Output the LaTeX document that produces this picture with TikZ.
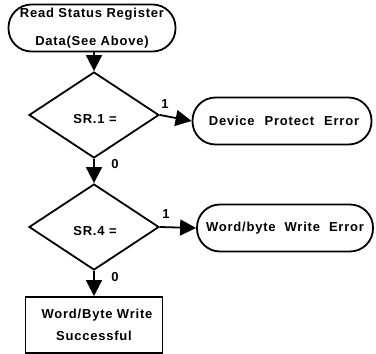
\documentclass[tikz,border=0pt]{standalone}
\usepackage{fontspec}
\setmainfont{Liberation Sans}[LetterSpace=6]
\usetikzlibrary{shapes.geometric,arrows.meta}
\begin{document}
\begin{tikzpicture}[x=1pt,y=-1pt,
  line width=1.8pt,
  every node/.style={font=\fontsize{13}{15.6}\selectfont\bfseries},
  term/.style={draw,rectangle,rounded corners=23pt,inner sep=0pt,minimum height=47pt,align=center},
  decide/.style={draw,diamond,inner sep=0pt,minimum width=130pt,minimum height=86pt},
  procbox/.style={draw,rectangle,inner sep=0pt,minimum width=137pt,minimum height=56pt,align=center},
  flow/.style={-{Triangle[length=16pt,width=16pt]}},
  tag/.style={inner sep=0pt}]
\useasboundingbox (0,0) rectangle (376,354);

\node[term,minimum width=167pt] (read) at (92,28)
  {Read Status Register\\[13pt]Data(See Above)};
\node[decide] (sr1) at (94,115) {};
\node[tag] (sr1t) at (95,119) {SR.1 =};
\node[term,minimum width=179pt] (dpe) at (282,121) {\hspace*{4pt}Device\hspace{10pt}Protect\hspace{10pt}Error};
\node[decide] (sr4) at (94,227) {};
\node[tag] (sr4t) at (95,231) {SR.4 =};
\node[term,minimum width=176pt] (wbe) at (285,228) {Word/byte\hspace{9pt}Write\hspace{9pt}Error};
\node[procbox] (ok) at (94,325) {\hspace*{6pt}Word/Byte Write\\[7pt]Successful};

\draw[flow] (read.south -| sr1.north) -- (sr1.north);
\draw[flow] (sr1.east) -- (dpe.west);
\draw[flow] (sr1.south) -- (sr4.north);
\draw[flow] (sr4.east) -- (wbe.west);
\draw[flow] (sr4.south) -- (ok.north);

\node[tag] (one1) at (165,104) {1};
\node[tag] (zero1) at (115,164) {0};
\node[tag] (one4) at (166,214) {1};
\node[tag] (zero4) at (115,277) {0};
\end{tikzpicture}
\end{document}
